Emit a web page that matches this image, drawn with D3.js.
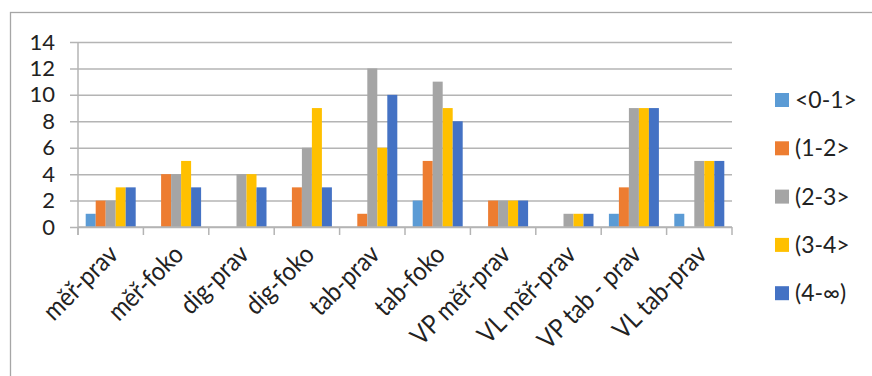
<!DOCTYPE html>
<html>
<head>
<meta charset="utf-8">
<script src="https://cdn.jsdelivr.net/npm/d3@7/dist/d3.min.js"></script>
<style>
  html, body { margin: 0; padding: 0; background: #fff; }
  svg { display: block; }
  text { font-family: Lato, "Open Sans", sans-serif; fill: #222; }
</style>
</head>
<body>
<svg id="chart" width="872" height="376"></svg>
<script>
// Categories along the x axis
const categories = ["měř-prav", "měř-foko", "dig-prav", "dig-foko", "tab-prav",
                    "tab-foko", "VP měř-prav", "VL měř-prav", "VP tab - prav", "VL tab-prav"];
// Series (interval classes) and their colours
const seriesNames = ["<0-1>", "(1-2>", "(2-3>", "(3-4>", "(4-∞)"];
const seriesColors = ["#5B9BD5", "#ED7D31", "#A5A5A5", "#FFC000", "#4472C4"];
// Counts per series, one value per category
const s01 = [1, 0, 0, 0, 0, 2, 0, 0, 1, 1];
const s12 = [2, 4, 0, 3, 1, 5, 2, 0, 3, 0];
const s23 = [2, 4, 4, 6, 12, 11, 2, 1, 9, 5];
const s34 = [3, 5, 4, 9, 6, 9, 2, 1, 9, 5];
const s4inf = [3, 3, 3, 3, 10, 8, 2, 1, 9, 5];
const yTicks = [0, 2, 4, 6, 8, 10, 12, 14];

const seriesValues = [s01, s12, s23, s34, s4inf];

const svg = d3.select("#chart");

// Outer chart frame
svg.append("rect")
  .attr("x", 10.5).attr("y", 12.5)
  .attr("width", 900).attr("height", 400)
  .attr("fill", "none").attr("stroke", "#a6a6a6").attr("stroke-width", 1.3);

const plot = { left: 78, right: 732, top: 42, bottom: 227 };

const x0 = d3.scaleBand().domain(categories).range([plot.left, plot.right]).padding(0);
const x1 = d3.scaleBand().domain(seriesNames).range([0, x0.bandwidth()])
  .paddingInner(0).paddingOuter(0.77);
const y = d3.scaleLinear().domain([0, 14]).range([plot.bottom, plot.top]);

// Horizontal gridlines with the y axis labels
const yAxis = d3.axisLeft(y).tickValues(yTicks).tickSize(-(plot.right - plot.left + 8))
  .tickPadding(15).tickFormat(d3.format("d"));
const gy = svg.append("g").attr("transform", `translate(${plot.left - 8},0)`).call(yAxis);
gy.select(".domain").remove();
gy.selectAll(".tick line").attr("stroke", "#b4b4b4").attr("stroke-width", 1.5);
gy.selectAll(".tick text").attr("font-size", 22).attr("fill", "#222")
  .attr("font-family", "Lato, sans-serif");

// Vertical axis line
svg.append("line")
  .attr("x1", plot.left).attr("x2", plot.left)
  .attr("y1", y(14)).attr("y2", plot.bottom + 8)
  .attr("stroke", "#b4b4b4").attr("stroke-width", 1.5);

// Bars
const groups = svg.append("g").selectAll("g")
  .data(categories)
  .join("g")
  .attr("transform", d => `translate(${x0(d)},0)`);

groups.selectAll("rect")
  .data((d, i) => seriesNames.map((s, k) => ({ s, k, v: seriesValues[k][i] })))
  .join("rect")
  .attr("x", d => x1(d.s))
  .attr("width", x1.bandwidth())
  .attr("y", d => y(d.v))
  .attr("height", d => y(0) - y(d.v))
  .attr("fill", d => seriesColors[d.k]);

// Category axis with ticks between categories
const boundaries = categories.map(c => x0(c)).concat([plot.right]);
svg.append("line")
  .attr("x1", plot.left).attr("x2", plot.right)
  .attr("y1", plot.bottom).attr("y2", plot.bottom)
  .attr("stroke", "#b4b4b4").attr("stroke-width", 1.5);
svg.append("g").selectAll("line")
  .data(boundaries)
  .join("line")
  .attr("x1", d => d).attr("x2", d => d)
  .attr("y1", plot.bottom).attr("y2", plot.bottom + 8)
  .attr("stroke", "#b4b4b4").attr("stroke-width", 1.5);

// Rotated category labels (slightly condensed along the baseline)
svg.append("g").selectAll("text")
  .data(categories)
  .join("text")
  .attr("transform", d => `translate(${x0(d) + x0.bandwidth() / 2 + 9},${plot.bottom + 29}) rotate(-45) scale(0.9,1)`)
  .attr("text-anchor", "end")
  .attr("font-size", 26)
  .text(d => d);

// Legend
const legend = svg.append("g").selectAll("g")
  .data(seriesNames)
  .join("g")
  .attr("transform", (d, i) => `translate(775,${100 + i * 48.3})`);
legend.append("rect")
  .attr("x", 0).attr("y", -7).attr("width", 14).attr("height", 14)
  .attr("fill", (d, i) => seriesColors[i]);
legend.append("text")
  .attr("x", 20).attr("y", 0).attr("dy", "0.35em")
  .attr("font-size", 23)
  .text(d => d);
</script>
</body>
</html>
